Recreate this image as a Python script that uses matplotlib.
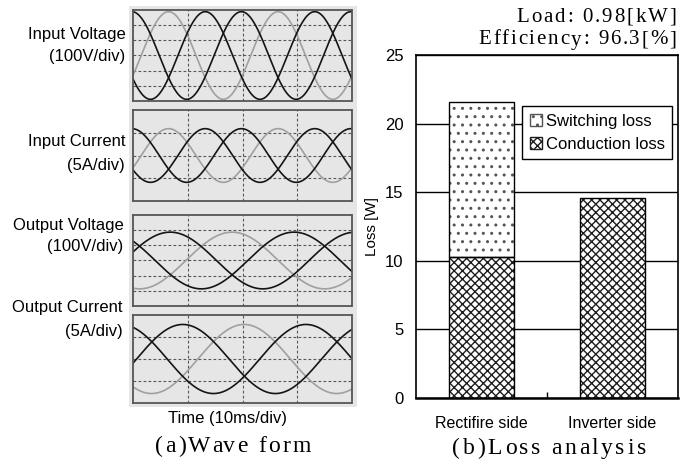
import numpy as np
import matplotlib
matplotlib.use('Agg')
import matplotlib.pyplot as plt
from matplotlib.patches import Rectangle, Patch
from matplotlib.font_manager import FontProperties

plt.rcParams['font.family'] = ['Liberation Sans', 'DejaVu Sans']
plt.rcParams['hatch.linewidth'] = 1.0

W, H = 691, 461

# scope traces: amplitude in grid rows, times in divisions
panel_names = ['Input Voltage', 'Input Current', 'Output Voltage', 'Output Current']
panel_scales = ['(100V/div)', '(5A/div)', '(100V/div)', '(5A/div)']
panel_rows = [6, 4, 6, 4]
amplitude = [2.89, 1.18, 1.87, 1.57]
period = [2.0, 2.0, 3.38, 3.38]
peak_black1 = [1.32, 1.32, 0.68, 0.91]
peak_grey = [0.65, 0.65, 1.81, 2.03]
peak_black2 = [1.98, 1.98, 2.94, 3.16]

# loss analysis
loss_categories = ['Rectifire side', 'Inverter side']
conduction_loss = [10.3, 14.55]
switching_loss = [11.3, 0.0]


def box(x0, y0, x1, y1):
    # pixel box (top-left origin) -> figure fraction rect
    return [x0 / W, 1 - y1 / H, (x1 - x0) / W, (y1 - y0) / H]


def spaced_text(fig, x, y, s, size, gap, ha='center'):
    # serif caption with extra letter spacing, x/y in pixels
    r = fig.canvas.get_renderer()
    prop = FontProperties(family=['Liberation Serif', 'DejaVu Serif'], size=size)
    wx = r.get_text_width_height_descent('x', prop, ismath=False)[0]
    widths = [0.0]
    for i in range(1, len(s) + 1):
        widths.append(r.get_text_width_height_descent(s[:i] + 'x', prop, ismath=False)[0] - wx)
    total = widths[-1] + gap * (len(s) - 1)
    start = x - total / 2 if ha == 'center' else x - total
    for i, ch in enumerate(s):
        if ch == ' ':
            continue
        fig.text((start + widths[i] + gap * i) / W, 1 - y / H, ch, fontproperties=prop,
                 ha='left', va='center')


fig = plt.figure(figsize=(W / 100, H / 100), dpi=100)

# grey screen background
fig.patches.append(Rectangle((129 / W, 1 - 407 / H), 228 / W, 401 / H, transform=fig.transFigure,
                             facecolor='#e6e6e6', edgecolor='none', zorder=-1))

frames = [(10, 101), (110, 201), (215, 306), (315, 403)]
label_pos = [(125.5, 34.5, 56.5), (125, 141.5, 165), (123.5, 225, 246.5), (123, 307.5, 331)]
t = np.linspace(0, 4, 800)

for i in range(4):
    top, bot = frames[i]
    ax = fig.add_axes(box(133, top, 352, bot))
    ax.set_facecolor('#e6e6e6')
    rows = panel_rows[i]
    ax.set_xlim(0, 4)
    ax.set_ylim(-rows / 2, rows / 2)
    for xv in [1, 2, 3]:
        ax.axvline(xv, color='#555555', lw=0.8, ls=(0, (2.5, 2)), zorder=1)
    for yv in range(-rows // 2 + 1, rows // 2):
        ax.axhline(yv, color='#555555', lw=0.8, ls=(0, (2.5, 2)), zorder=1)
    for pk, col in [(peak_grey[i], '#a0a0a0'), (peak_black1[i], '#151515'), (peak_black2[i], '#151515')]:
        ax.plot(t, amplitude[i] * np.cos(2 * np.pi * (t - pk) / period[i]), color=col, lw=1.2, zorder=2)
    ax.set_xticks([])
    ax.set_yticks([])
    for sp in ax.spines.values():
        sp.set_color('#555555')
        sp.set_linewidth(1.3)
        sp.set_linestyle((0, (1, 1)))
    xr, y1, y2 = label_pos[i]
    fig.text(xr / W, 1 - y1 / H, panel_names[i], ha='right', va='center', fontsize=12)
    fig.text(xr / W, 1 - y2 / H, panel_scales[i], ha='right', va='center', fontsize=12)

fig.text(227 / W, 1 - 419 / H, 'Time (10ms/div)', ha='center', va='center', fontsize=12)

# loss bars
bx = fig.add_axes(box(416, 55, 678, 398))
x = np.arange(len(loss_categories))
bx.bar(x, conduction_loss, width=0.5, facecolor='white', edgecolor='#1e1e1e', hatch='xxxx', lw=0, zorder=2)
bx.bar(x, conduction_loss, width=0.5, fill=False, edgecolor='black', lw=1, zorder=3)
mask = np.array(switching_loss) > 0
bx.bar(x[mask], np.array(switching_loss)[mask], bottom=np.array(conduction_loss)[mask], width=0.5,
       facecolor='white', edgecolor='#555555', hatch='..', lw=0, zorder=2)
bx.bar(x[mask], np.array(switching_loss)[mask], bottom=np.array(conduction_loss)[mask], width=0.5,
       fill=False, edgecolor='black', lw=1, zorder=3)

bx.set_xlim(-0.5, 1.5)
bx.set_ylim(0, 25)
bx.set_yticks(range(0, 26, 5))
bx.tick_params(axis='y', length=0, pad=9, labelsize=12)
bx.yaxis.grid(True, color='black', lw=1)
bx.set_axisbelow(True)
bx.set_xticks([0.5])
bx.set_xticklabels([''])
bx.tick_params(axis='x', which='major', direction='in', length=4, width=1)
bx.set_xticks(x, minor=True)
bx.set_xticklabels(loss_categories, minor=True, fontsize=11.5)
bx.tick_params(axis='x', which='minor', length=0, pad=13)
for sp in bx.spines.values():
    sp.set_linewidth(1.2)
bx.spines['bottom'].set_linewidth(1.8)
fig.text(372 / W, 1 - 226.5 / H, 'Loss [W]', rotation=90, ha='center', va='center', fontsize=11)

handles = [Patch(facecolor='white', edgecolor='#555555', hatch='..', label='Switching loss'),
           Patch(facecolor='white', edgecolor='#1e1e1e', hatch='xxxx', label='Conduction loss')]
leg = bx.legend(handles=handles, loc='upper right', bbox_to_anchor=(0.978, 0.851), fontsize=12,
                handlelength=0.75, handleheight=0.75, handletextpad=0.2, labelspacing=0.5,
                borderpad=0.45, borderaxespad=0, fancybox=False, framealpha=1, edgecolor='black')
leg.get_frame().set_linewidth(1)

spaced_text(fig, 676.5, 17, 'Load: 0.98[kW]', 15, 2.0, ha='right')
spaced_text(fig, 676.5, 40, 'Efficiency: 96.3[%]', 15, 1.8, ha='right')
spaced_text(fig, 233, 446, '(a)Wave form', 17, 2.2)
spaced_text(fig, 549, 448, '(b)Loss analysis', 17, 2.6)

fig.savefig('out.png', dpi=100)
